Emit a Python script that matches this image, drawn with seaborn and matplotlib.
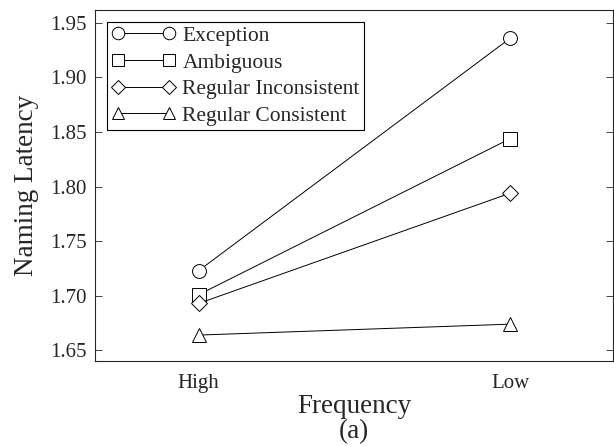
import pandas as pd
import seaborn as sns
import matplotlib.pyplot as plt

# data
frequency = ['High', 'Low']
exception = [1.723, 1.936]
ambiguous = [1.701, 1.844]
reg_inconsistent = [1.693, 1.794]
reg_consistent = [1.664, 1.674]
conditions = ['Exception', 'Ambiguous', 'Regular Inconsistent', 'Regular Consistent']
marker_list = ['o', 's', 'D', '^']

rows = []
for name, vals in zip(conditions, [exception, ambiguous, reg_inconsistent, reg_consistent]):
    for f, v in zip(frequency, vals):
        rows.append({'Frequency': f, 'Latency': v, 'Condition': name})
df = pd.DataFrame(rows)

sns.set_style('ticks')
plt.rcParams['font.family'] = ['Liberation Serif', 'DejaVu Serif']

fig, ax = plt.subplots(figsize=(6.14, 4.46), dpi=100)
fig.subplots_adjust(left=0.155, right=0.998, top=0.978, bottom=0.19)

sns.lineplot(data=df, x='Frequency', y='Latency', hue='Condition', style='Condition',
             palette=['black'] * 4, markers=dict(zip(conditions, marker_list)),
             dashes=False, markersize=10, markerfacecolor='white', markeredgecolor='black',
             markeredgewidth=0.7, linewidth=0.7, ax=ax)

# diamond a bit smaller like the original
for line in ax.lines:
    if line.get_marker() == 'D':
        line.set_markersize(8)

ax.set_xlim(-0.332, 1.329)
ax.set_ylim(1.640, 1.962)
ax.set_yticks([1.65, 1.70, 1.75, 1.80, 1.85, 1.90, 1.95])
ax.set_yticklabels(['1.65', '1.70', '1.75', '1.80', '1.85', '1.90', '1.95'])
ax.tick_params(axis='y', direction='in', length=5, width=0.6, labelsize=15, right=True, pad=6)
ax.tick_params(axis='x', length=0, labelsize=15, pad=9)
for s in ax.spines.values():
    s.set_linewidth(0.8)

ax.set_xlabel('Frequency\n(a)', fontsize=19.5, labelpad=1, linespacing=1.0)
ax.set_ylabel('Naming Latency', fontsize=19.5, labelpad=8)

handles, labels = ax.get_legend_handles_labels()
leg = ax.legend(handles, labels, loc='upper left', numpoints=2, fontsize=15.5,
                handlelength=3.0, handletextpad=0.3, borderpad=0.2, labelspacing=0.3,
                frameon=True, fancybox=False, edgecolor='black', framealpha=1,
                bbox_to_anchor=(0.0, 1.0), borderaxespad=0.55, markerscale=0.9)
leg.get_frame().set_linewidth(0.8)

fig.savefig('out.png', dpi=100)
